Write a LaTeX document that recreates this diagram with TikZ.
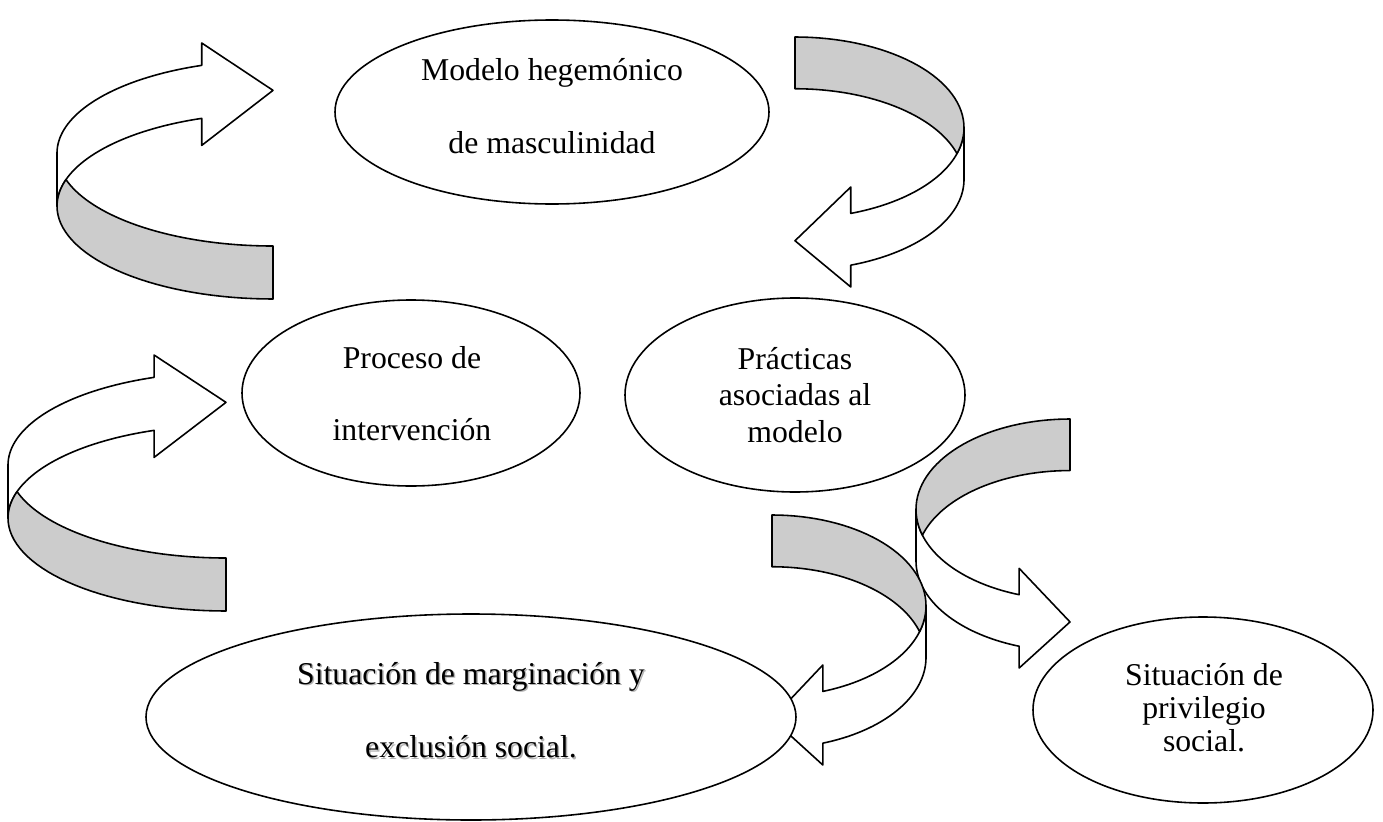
\documentclass[tikz,border=0pt]{standalone}
\usepackage{fontspec}
\setmainfont{Liberation Serif}
\usetikzlibrary{shapes.geometric}
\definecolor{ribbongray}{RGB}{204,204,204}
\tikzset{
  ribbon/.style={draw=black, fill=white, line width=0.6pt, line join=round},
  ribbon back/.style={ribbon, fill=ribbongray},
  bubble/.style 2 args={draw, ellipse, fill=white, line width=0.6pt, inner sep=0pt,
    minimum width={2*#1*0.378pt}, minimum height={2*#2*0.378pt}},
  bubbletext/.style={align=center, font=\fontsize{12}{13.8}\selectfont}
}
\begin{document}
\begin{tikzpicture}[x=0.378pt, y=-0.378pt]
  \useasboundingbox (0,0) rectangle (1383,822);
  % curved arrows: one ribbon, placed by shift and (mirrored) scale
  \foreach \ax/\ay/\aw/\ah in {57/299/216/-256, 964/37/-169/250, 8/611/218/-256,
                               916/419/154/249, 926/515/-154/250}
   {
    \begin{scope}[shift={(\ax,\ay)}, xscale=\aw, yscale=\ah]
      % front side with head
      \draw[ribbon]
        plot[domain=180:109.27, samples=40] ({1+cos(\x)},{0.57+0.363*sin(\x)})
        -- (0.67,1) -- (1,0.815) -- (0.67,0.6)
        -- plot[domain=109.27:180, samples=40] ({1+cos(\x)},{0.363+0.363*sin(\x)})
        -- cycle;
      % back side
      \draw[ribbon back]
        plot[domain=163.44:270, samples=40] ({1+cos(\x)},{0.363+0.363*sin(\x)})
        -- plot[domain=270:196.56, samples=40] ({1+cos(\x)},{0.57+0.363*sin(\x)})
        -- cycle;
    \end{scope}
   }
  % ellipses
  \node[bubble={217}{92}] (modelo) at (552,112) {};
  \node[bubble={169}{93}] (proceso) at (411,393) {};
  \node[bubble={170}{97}] (practicas) at (795,395) {};
  \node[bubble={325}{103}] (margin) at (471,717) {};
  \node[bubble={170}{93}] (privilegio) at (1203,710) {};
  % texts
  \node[bubbletext] (modelo-txt) at (552,106) {Modelo hegemónico\\[14pt]de masculinidad};
  \node[bubbletext] (proceso-txt) at (412,394) {Proceso de\\[13.4pt]intervención};
  \node[bubbletext] (practicas-txt) at (795,395) {Prácticas\\asociadas al\\modelo};
  \node[bubbletext, text=gray!60] (margin-shadow) at (472.5,711.5)
    {Situación de marginación y\\[14pt]exclusión social.};
  \node[bubbletext] (margin-txt) at (471,710) {Situación de marginación y\\[14pt]exclusión social.};
  \node[bubbletext, font=\fontsize{12}{12.5}\selectfont] (privilegio-txt) at (1204,708)
    {Situación de\\privilegio\\social.};
\end{tikzpicture}
\end{document}
